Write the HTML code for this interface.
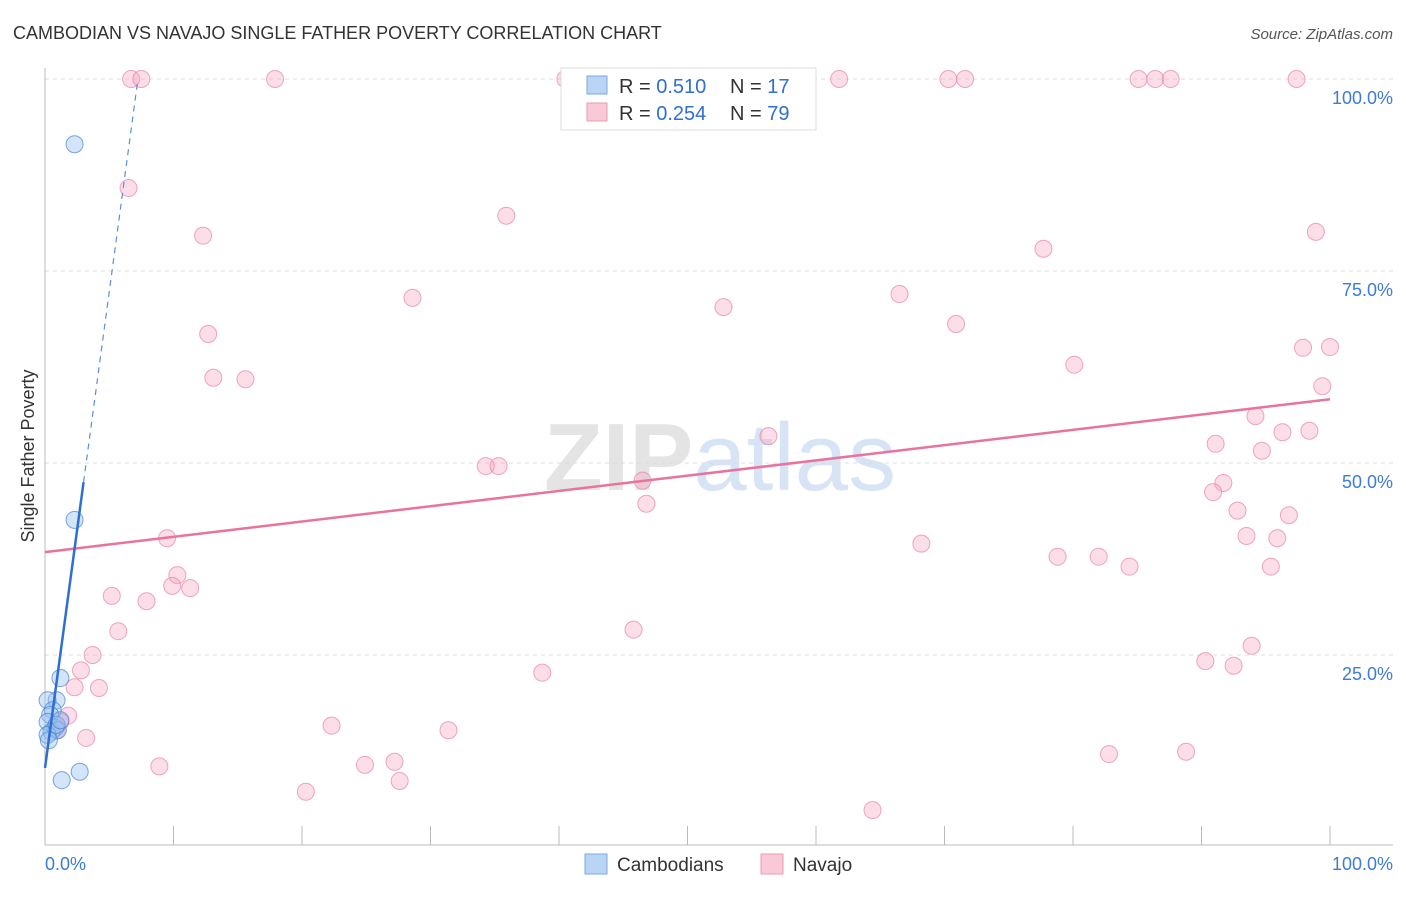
<!DOCTYPE html>
<html><head><meta charset="utf-8">
<style>
body{margin:0;background:#fff;font-family:"Liberation Sans",sans-serif;}
svg text{font-family:"Liberation Sans",sans-serif;}
</style></head>
<body>
<svg id="chart" width="1406" height="892" viewBox="0 0 1406 892" xmlns="http://www.w3.org/2000/svg">
<text x="13" y="39" font-size="18" fill="#333">CAMBODIAN VS NAVAJO SINGLE FATHER POVERTY CORRELATION CHART</text>
<text x="1393" y="39" font-size="15" fill="#555" font-style="italic" text-anchor="end">Source: ZipAtlas.com</text>
<text x="720" y="490" font-size="96" text-anchor="middle" fill="#e4e4e4" font-family="Liberation Serif"><tspan font-weight="bold">ZIP</tspan><tspan fill="#d6e4f5" font-family="Liberation Sans">atlas</tspan></text>
<g id="grid"></g>
<g id="axes"></g>
<text transform="translate(34,456) rotate(-90)" font-size="18" fill="#333" text-anchor="middle">Single Father Poverty</text>
<g id="pink"></g>
<g id="blue"></g>
<g id="trends"></g>
<g>
<rect x="561" y="68" width="255" height="62" fill="#fff" stroke="#ddd"/>
<rect x="587" y="76" width="20" height="18" fill="#b9d4f5" stroke="#7aa8e0"/>
<rect x="587" y="103" width="20" height="18" fill="#f9c9d8" stroke="#eb9ab5"/>
<text x="619" y="93" font-size="20" fill="#333">R = <tspan fill="#2f6fd0">0.510</tspan></text>
<text x="730" y="93" font-size="20" fill="#333">N = <tspan fill="#2f6fd0">17</tspan></text>
<text x="619" y="120" font-size="20" fill="#333">R = <tspan fill="#2f6fd0">0.254</tspan></text>
<text x="730" y="120" font-size="20" fill="#333">N = <tspan fill="#2f6fd0">79</tspan></text>
</g>
<g>
<rect x="585" y="854" width="22" height="20" fill="#b9d4f5" stroke="#7aa8e0"/>
<text x="617" y="871" font-size="19" fill="#333">Cambodians</text>
<rect x="761" y="854" width="22" height="20" fill="#f9c9d8" stroke="#eb9ab5"/>
<text x="793" y="871" font-size="19" fill="#333">Navajo</text>
</g>
</svg>
<script>
const blueX=[2.3,2.3,1.2,0.9,0.2,0.6,0.4,0.2,0.8,0.5,1.0,0.2,1.3,2.7,0.9,1.2,0.3];
const blueY=[91.5,42.6,22.0,19.1,19.1,17.8,17.2,16.3,15.5,15.0,15.2,14.6,8.7,9.8,15.9,16.5,13.9];
const pinkX=[6.7,7.5,17.9,40.5,61.8,70.3,71.6,85.1,86.4,87.6,97.4,6.5,12.3,35.9,98.9,77.7,28.6,52.8,66.5,70.9,12.7,13.1,15.6,80.1,97.9,100,99.4,94.2,91.1,96.3,98.4,94.7,56.3,34.3,35.3,46.5,46.8,91.7,90.9,92.8,96.8,93.5,95.9,68.2,78.8,82.0,84.4,95.4,9.5,10.3,9.9,11.3,5.2,7.9,5.7,45.8,3.7,2.8,2.3,4.2,38.7,90.3,92.5,93.9,1.8,1.2,0.9,3.2,22.3,31.4,8.9,24.9,27.2,27.6,20.3,82.8,88.8,64.4];
const pinkY=[100,100,100,100,100,100,100,100,100,100,100,85.8,79.6,82.2,80.1,77.9,71.5,70.3,72.0,68.1,66.8,61.1,60.9,62.8,65.0,65.1,60.0,56.1,52.5,54.0,54.2,51.6,53.5,49.6,49.6,47.7,44.7,47.4,46.2,43.8,43.2,40.5,40.2,39.5,37.8,37.8,36.5,36.5,40.2,35.4,34.0,33.7,32.7,32.0,28.1,28.3,25.0,23.0,20.8,20.7,22.7,24.2,23.6,26.2,17.1,16.3,15.2,14.2,15.8,15.2,10.5,10.7,11.1,8.6,7.2,12.1,12.4,4.8];
const blueTrend=[10.3,12.4]; // intercept, slope
const pinkTrend=[38.4,0.199];
const yTicks=[25,50,75,100];
const yTickLabels=["25.0%","50.0%","75.0%","100.0%"];
const xTicks=[0,10,20,30,40,50,60,70,80,90,100];

const NS="http://www.w3.org/2000/svg";
const sx=v=>45+v*12.85, sy=v=>847-v*7.68;
function mk(tag,parent,attrs){const e=document.createElementNS(NS,tag);for(const k in attrs)e.setAttribute(k,attrs[k]);document.getElementById(parent).appendChild(e);return e;}
yTicks.forEach((t,i)=>{
 const l=mk('line','grid',{x1:45,x2:1393,y1:sy(t),y2:sy(t),stroke:'#ddd','stroke-dasharray':'4,4'});
 
 
 const tx=mk('text','axes',{x:1393,y:sy(t)+25,'font-size':18,fill:'#3d7bd6','text-anchor':'end'});
 tx.textContent=yTickLabels[i];
 
 
});
mk('line','axes',{x1:45,x2:45,y1:68,y2:845,stroke:'#bbb'});
mk('line','axes',{x1:45,x2:1393,y1:845,y2:845,stroke:'#bbb'});
xTicks.forEach(t=>{
 if(t===0)return;
 const l=mk('line','axes',{x1:sx(t),x2:sx(t),y1:826,y2:845,stroke:'#bbb'});
 
 
});
let a=mk('text','axes',{x:45,y:870,'font-size':18,fill:'#3d7bd6'});a.textContent='0.0%';


a=mk('text','axes',{x:1393,y:870,'font-size':18,fill:'#3d7bd6','text-anchor':'end'});a.textContent='100.0%';


pinkX.forEach((x,i)=>{
 const c=mk('circle','pink',{cx:sx(x),cy:sy(pinkY[i]),r:8.5,fill:'rgba(245,160,188,0.35)',stroke:'rgba(232,130,165,0.7)','stroke-width':1});
 
 
});
blueX.forEach((x,i)=>{
 const c=mk('circle','blue',{cx:sx(x),cy:sy(blueY[i]),r:8.5,fill:'rgba(150,190,240,0.4)',stroke:'rgba(70,130,210,0.7)','stroke-width':1});
 
 
});
let l=mk('line','trends',{x1:sx(0),y1:sy(pinkTrend[0]),x2:sx(100),y2:sy(pinkTrend[0]+100*pinkTrend[1]),stroke:'#e8739e','stroke-width':2.5});


const bx1=3.0, bx2=(100-blueTrend[0])/blueTrend[1];
l=mk('line','trends',{x1:sx(0),y1:sy(blueTrend[0]),x2:sx(bx1),y2:sy(blueTrend[0]+bx1*blueTrend[1]),stroke:'#2f6fd0','stroke-width':2.5});


l=mk('line','trends',{x1:sx(bx1),y1:sy(blueTrend[0]+bx1*blueTrend[1]),x2:sx(bx2),y2:sy(100),stroke:'#5a8fd8','stroke-width':1.2,'stroke-dasharray':'6,5'});


</script>
</body></html>
